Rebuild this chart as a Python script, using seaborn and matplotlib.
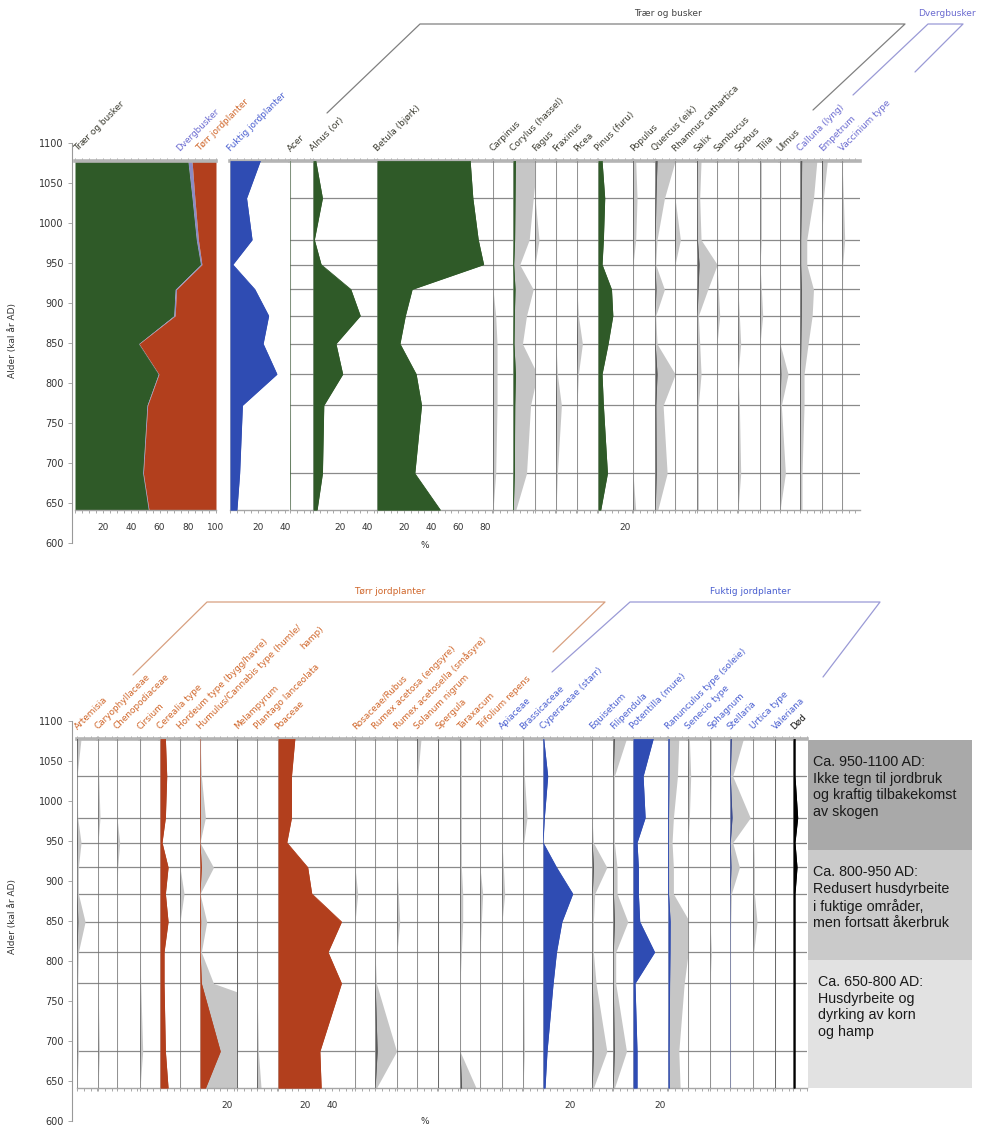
import matplotlib
matplotlib.use("Agg")
import matplotlib.pyplot as plt
from matplotlib.ticker import MultipleLocator
from matplotlib.patches import Rectangle
import numpy as np
import seaborn as sns

# ---------------- data (percent values per sample, top -> bottom) ----------------
years = [1078, 1031, 979, 948, 917, 884, 849, 811, 772, 687, 641]

# summary panels
traer_og_busker = [80, 83, 86, 89, 71, 70, 45, 59, 51, 48, 52]
dvergbusker = [3, 2, 1.5, 1, 1, 1, 0.5, 0.5, 0.5, 0.5, 0.5]
torr_jordplanter = [17, 15, 12.5, 10, 28, 29, 54.5, 40.5, 48.5, 51.5, 47.5]
fuktig_jordplanter = [22, 12, 16, 2, 18, 28, 24, 34, 9, 7, 5]

# trees and shrubs / dwarf shrubs
acer = [0, 0, 0, 0, 0, 0, 0, 0, 0, 0.1, 0]
alnus = [2, 7, 1, 6, 28, 35, 17, 22, 8, 7, 3]
betula = [69, 71, 75, 79, 26, 21, 17, 29, 33, 28, 47]
carpinus = [0, 0, 0, 0, 0, 0.2, 0.3, 0.3, 0.3, 0.2, 0]
corylus = [1.8, 1.5, 1.2, 0.5, 1.5, 1.0, 0.7, 1.8, 1.3, 1.0, 0.2]
fagus = [0, 0, 0.3, 0, 0, 0, 0, 0, 0, 0, 0]
fraxinus = [0, 0, 0, 0, 0, 0, 0, 0.1, 0.4, 0.1, 0]
picea = [0, 0, 0, 0, 0, 0.1, 0.4, 0.1, 0, 0, 0]
pinus = [3, 5, 4, 3, 10, 11, 7.5, 3, 4, 7, 2]
populus = [0.2, 0.3, 0.2, 0, 0, 0, 0, 0, 0, 0, 0.2]
quercus = [1.5, 0.7, 0.15, 0.05, 0.7, 0.05, 0.15, 1.5, 0.6, 0.9, 0.2]
rhamnus = [0, 0, 0.4, 0, 0, 0, 0, 0, 0, 0, 0]
salix = [0.3, 0.2, 0.3, 1.5, 0.8, 0.1, 0.2, 0.3, 0.1, 0.1, 0.1]
sambucus = [0, 0, 0, 0, 0.1, 0.2, 0, 0, 0, 0, 0]
sorbus = [0, 0, 0, 0, 0, 0.1, 0.2, 0, 0.1, 0.2, 0]
tilia = [0.1, 0.1, 0.1, 0, 0.1, 0.2, 0, 0, 0, 0, 0]
ulmus = [0, 0, 0, 0, 0, 0, 0, 0.6, 0.1, 0.4, 0]
calluna = [1.25, 1.0, 0.5, 0.5, 1.0, 0.9, 0.6, 0.3, 0.3, 0.15, 0.15]
empetrum = [0.4, 0.1, 0, 0, 0, 0, 0, 0, 0, 0, 0]
vaccinium = [0, 0.1, 0.2, 0.05, 0, 0, 0, 0, 0, 0, 0]

# dry-ground herbs
artemisia = [0.3, 0, 0.05, 0.3, 0.1, 0.1, 0.6, 0.1, 0.05, 0.1, 0]
caryophyllaceae = [0, 0.05, 0.15, 0, 0, 0, 0, 0, 0, 0.1, 0]
chenopodiaceae = [0, 0, 0, 0.2, 0.05, 0, 0, 0, 0, 0, 0]
cirsium = [0, 0, 0, 0, 0, 0, 0, 0, 0.05, 0.2, 0]
cerealia = [4, 5, 4, 1.5, 6, 4, 6, 3, 3, 4, 6]
hordeum = [0, 0, 0, 0, 0, 0.3, 0, 0, 0, 0, 0]
humulus = [0, 0.1, 0.4, 0, 1.0, 0, 0.5, 0.1, 1.0, 15, 4]
melampyrum = [0, 0, 0, 0, 0, 0, 0, 0, 0, 0, 0]
plantago = [0, 0, 0, 0, 0, 0, 0, 0, 0, 0.1, 0.3]
poaceae = [12.5, 10, 10, 6.5, 22, 25, 47, 37, 47, 31, 32]
rosaceae = [0, 0, 0, 0, 0, 0.2, 0, 0, 0, 0, 0]
rumex_acetosa = [0, 0, 0, 0, 0, 0, 0, 0, 0.1, 1.6, 0.1]
rumex_acetosella = [0, 0, 0, 0, 0, 0.1, 0.2, 0, 0, 0, 0]
solanum = [0.3, 0.05, 0, 0, 0, 0, 0, 0, 0, 0, 0]
spergula = [0, 0, 0, 0, 0, 0, 0, 0, 0, 0, 0]
taraxacum = [0.1, 0.1, 0.1, 0.1, 0.1, 0.2, 0.2, 0.1, 0, 0, 1.2]
trifolium = [0, 0, 0, 0, 0, 0.2, 0.1, 0, 0, 0, 0]

# wet-ground herbs
apiaceae = [0, 0, 0, 0, 0.1, 0.2, 0, 0, 0, 0, 0]
brassicaceae = [0.05, 0.1, 0.3, 0.05, 0, 0, 0, 0, 0.05, 0.1, 0]
cyperaceae = [0.5, 3.5, 1, 0, 10, 22, 14, 10, 7.5, 3, 1.5]
equisetum = [0, 0, 0, 0.1, 1.1, 0.2, 0.1, 0.1, 0.3, 1.1, 0.1]
filipendula = [1.0, 0.1, 0.1, 0.1, 0.3, 0.3, 1.1, 0.2, 0.2, 1.0, 0.1]
potentilla = [15, 7.5, 9, 3, 4, 4, 5, 16, 1.5, 3, 3]
ranunculus = [0.8, 0.7, 0.4, 0.3, 0.4, 0.4, 1.6, 1.5, 1.2, 0.8, 0.9]
senecio = [0.1, 0.2, 0.1, 0, 0, 0, 0, 0, 0, 0, 0]
sphagnum = [0.1, 0.1, 0.05, 0, 0, 0, 0, 0.1, 0, 0, 0]
stellaria = [1.0, 0.2, 1.5, 0.2, 0.7, 0.1, 0.05, 0, 0, 0, 0]
urtica = [0, 0, 0, 0.05, 0.1, 0.1, 0.3, 0.05, 0, 0, 0]
valeriana = [0, 0, 0, 0, 0, 0, 0, 0, 0, 0, 0]
dod = [1.5, 1.5, 3.5, 1.5, 3.0, 1.5, 1.5, 1.5, 1.5, 1.5, 1.5]

y_ticks = [600, 650, 700, 750, 800, 850, 900, 950, 1000, 1050, 1100]

zone_texts = [
    "Ca. 950-1100 AD:\nIkke tegn til jordbruk\nog kraftig tilbakekomst\nav skogen",
    "Ca. 800-950 AD:\nRedusert husdyrbeite\ni fuktige områder,\nmen fortsatt åkerbruk",
    "Ca. 650-800 AD:\nHusdyrbeite og\ndyrking av korn\nog hamp",
]

# ---------------- styling ----------------
sns.set_theme(style="white")
plt.rcParams['font.family'] = ['DejaVu Sans']

GREEN = '#2f5a28'
RED = '#b23f1d'
BLUE = '#2f4cb3'
DWARF = '#8c8cc4'
GREYEX = '#c6c6c6'
SMALL = '#5a5a5a'
LBL = {'tree': '#3b3b30', 'dwarf': '#6a6ad0', 'dry': '#d0662a', 'wet': '#4a5fd0', 'other': '#111111'}

W, H = 982, 1126
fig = plt.figure(figsize=(W / 100, H / 100), dpi=100)

YMIN, YMAX = 641, 1078
SCALE = 1.35


def ypx(year, chart):
    base = 183 if chart == 0 else 761
    return base + (1050 - year) * 0.8


def add_ax(left, top, width, height):
    return fig.add_axes([left / W, 1 - (top + height) / H, width / W, height / H])


overlay = fig.add_axes([0, 0, 1, 1])
overlay.set_xlim(0, W)
overlay.set_ylim(H, 0)
overlay.axis('off')


def style(ax, ticks):
    for s in ['left', 'right']:
        ax.spines[s].set_visible(False)
    ax.spines['top'].set_color('#b4b4b4')
    ax.spines['top'].set_linewidth(2.6)
    ax.spines['bottom'].set_color('#a6a6a6')
    ax.spines['bottom'].set_linewidth(1.0)
    ax.set_yticks([])
    ax.set_xticks(ticks)
    ax.xaxis.set_minor_locator(MultipleLocator(5))
    ax.tick_params(axis='x', which='both', top=True, bottom=True, direction='out',
                   length=2.5, width=0.6, color='#9a9a9a', labelsize=6.5, pad=7,
                   labelcolor='#333333', labeltop=False, labelbottom=True)
    ax.set_xlabel('')
    ax.set_ylabel('')
    ax.set_facecolor('none')
    ax.grid(False)


def draw_panel(left, width, chart, vals, fill_color, line_color, exag, ticks,
               hlines=True, scale=SCALE):
    top = ypx(YMAX, chart)
    bottom = ypx(YMIN, chart)
    ax = add_ax(left, top, width, bottom - top)
    v = np.asarray(vals, float)
    ax.axvline(0, color='#bdbdbd', lw=0.8, zorder=1)
    if hlines:
        for yr in years[1:-1]:
            ax.axhline(yr, color='#8a8a8a', lw=0.9, zorder=1)
    if exag:
        ax.fill_betweenx(years, 0, v * 10, color=GREYEX, lw=0, zorder=2)
    ax.fill_betweenx(years, 0, v, color=fill_color, lw=0, zorder=3)
    sns.lineplot(x=v, y=years, orient='y', sort=False, estimator=None, ax=ax,
                 color=line_color, lw=0.6, zorder=4, legend=False)
    ax.set_xlim(0, width / scale)
    ax.set_ylim(YMIN, YMAX)
    style(ax, ticks)
    return ax


def label(x, y, text, color, size=6.4):
    overlay.text(x, y, text, rotation=45, ha='left', va='bottom',
                 rotation_mode='anchor', fontsize=size, color=color)


# ---------------- y axes ----------------
for chart, ylab_y in [(0, 340), (1, 917)]:
    t = ypx(1100, chart)
    b = ypx(600, chart)
    ay = add_ax(72, t, 1, b - t)
    ay.set_ylim(600, 1100)
    ay.set_yticks(y_ticks)
    ay.set_xticks([])
    for s in ['top', 'right', 'bottom']:
        ay.spines[s].set_visible(False)
    ay.spines['left'].set_color('#999999')
    ay.spines['left'].set_linewidth(0.8)
    ay.tick_params(axis='y', left=True, length=3, width=0.6, color='#999999',
                   labelsize=7, pad=3, labelcolor='#333333')
    ay.set_facecolor('none')
    overlay.text(13, ylab_y, 'Alder (kal år AD)', rotation=90, ha='center',
                 va='center', fontsize=6.5, color='#333333')

# ---------------- top chart ----------------
t0 = ypx(YMAX, 0)
b0 = ypx(YMIN, 0)
axs = add_ax(75, t0, 141, b0 - t0)
tr = np.asarray(traer_og_busker, float)
dv = np.asarray(dvergbusker, float)
dr = np.asarray(torr_jordplanter, float)
axs.fill_betweenx(years, 0, tr, color=GREEN, lw=0)
axs.fill_betweenx(years, tr, tr + dv, color=DWARF, lw=0)
axs.fill_betweenx(years, tr + dv, tr + dv + dr, color=RED, lw=0)
sns.lineplot(x=tr, y=years, orient='y', sort=False, estimator=None, ax=axs,
             color=GREEN, lw=0.5, legend=False)
axs.set_xlim(0, 100)
axs.set_ylim(YMIN, YMAX)
style(axs, [20, 40, 60, 80, 100])

draw_panel(230, 58, 0, fuktig_jordplanter, BLUE, BLUE, False, [20, 40],
           hlines=False, scale=1.38)

label(79, 153, 'Trær og busker', LBL['tree'])
label(181, 153, 'Dvergbusker', LBL['dwarf'])
label(201, 153, 'Tørr jordplanter', LBL['dry'])
label(232, 153, 'Fuktig jordplanter', LBL['wet'])

top_panels = [
    ('Acer', acer, 23, 'tree', False, []),
    ('Alnus (or)', alnus, 64, 'tree', False, [20, 40]),
    ('Betula (bjørk)', betula, 116, 'tree', False, [20, 40, 60, 80]),
    ('Carpinus', carpinus, 20, 'tree', True, []),
    ('Corylus (hassel)', corylus, 22, 'tree', True, []),
    ('Fagus', fagus, 21, 'tree', True, []),
    ('Fraxinus', fraxinus, 21, 'tree', True, []),
    ('Picea', picea, 21, 'tree', True, []),
    ('Pinus (furu)', pinus, 35, 'tree', False, [20]),
    ('Populus', populus, 22, 'tree', True, []),
    ('Quercus (eik)', quercus, 20, 'tree', True, []),
    ('Rhamnus cathartica', rhamnus, 22, 'tree', True, []),
    ('Salix', salix, 20, 'tree', True, []),
    ('Sambucus', sambucus, 21, 'tree', True, []),
    ('Sorbus', sorbus, 22, 'tree', True, []),
    ('Tilia', tilia, 20, 'tree', True, []),
    ('Ulmus', ulmus, 20, 'tree', True, []),
    ('Calluna (lyng)', calluna, 22, 'dwarf', True, []),
    ('Empetrum', empetrum, 20, 'dwarf', True, []),
    ('Vaccinium type', vaccinium, 18, 'dwarf', True, []),
]

x = 290
for name, vals, w, kind, ex, ticks in top_panels:
    if kind == 'tree' and not ex:
        fc = lc = GREEN
    elif name.startswith('Corylus'):
        fc = lc = GREEN
    else:
        fc = lc = SMALL
    draw_panel(x, w, 0, vals, fc, lc, ex, ticks)
    label(x + 2, 153, name, LBL[kind])
    x += w

overlay.text(425, 546, '%', ha='center', va='center', fontsize=6.5, color='#333333')

# ---------------- bottom chart ----------------
bottom_panels = [
    ('Artemisia', artemisia, 21, 'dry', True, [], SMALL),
    ('Caryophyllaceae', caryophyllaceae, 19, 'dry', True, [], SMALL),
    ('Chenopodiaceae', chenopodiaceae, 23, 'dry', True, [], SMALL),
    ('Cirsium', cirsium, 20, 'dry', True, [], SMALL),
    ('Cerealia type', cerealia, 20, 'dry', False, [], RED),
    ('Hordeum type (bygg/havre)', hordeum, 20, 'dry', True, [], SMALL),
    ('Humulus/Cannabis type (humle/', humulus, 37, 'dry', True, [20], RED),
    ('Melampyrum', melampyrum, 20, 'dry', True, [], SMALL),
    ('Plantago lanceolata', plantago, 21, 'dry', True, [], SMALL),
    ('Poaceae', poaceae, 77, 'dry', False, [20, 40], RED),
    ('Rosaceae/Rubus', rosaceae, 20, 'dry', True, [], SMALL),
    ('Rumex acetosa (engsyre)', rumex_acetosa, 22, 'dry', True, [], SMALL),
    ('Rumex acetosella (småsyre)', rumex_acetosella, 20, 'dry', True, [], SMALL),
    ('Solanum nigrum', solanum, 21, 'dry', True, [], SMALL),
    ('Spergula', spergula, 22, 'dry', True, [], SMALL),
    ('Taraxacum', taraxacum, 20, 'dry', True, [], SMALL),
    ('Trifolium repens', trifolium, 22, 'dry', True, [], SMALL),
    ('Apiaceae', apiaceae, 21, 'wet', True, [], SMALL),
    ('Brassicaceae', brassicaceae, 20, 'wet', True, [], SMALL),
    ('Cyperaceae (starr)', cyperaceae, 49, 'wet', False, [20], BLUE),
    ('Equisetum', equisetum, 21, 'wet', True, [], SMALL),
    ('Filipendula', filipendula, 20, 'wet', True, [], SMALL),
    ('Potentilla (mure)', potentilla, 35, 'wet', False, [20], BLUE),
    ('Ranunculus type (soleie)', ranunculus, 20, 'wet', True, [], BLUE),
    ('Senecio type', senecio, 22, 'wet', True, [], SMALL),
    ('Sphagnum', sphagnum, 20, 'wet', True, [], SMALL),
    ('Stellaria', stellaria, 23, 'wet', True, [], '#3a4a90'),
    ('Urtica type', urtica, 22, 'wet', True, [], SMALL),
    ('Valeriana', valeriana, 18, 'wet', True, [], SMALL),
    ('Død', dod, 14, 'other', False, [], '#000000'),
]

x = 77
for name, vals, w, kind, ex, ticks, col in bottom_panels:
    draw_panel(x, w, 1, vals, col, col, ex, ticks)
    label(x + 2, 731, name, LBL[kind])
    if name.startswith('Humulus'):
        label(305, 651, 'hamp)', LBL[kind])
    x += w

overlay.text(425, 1122, '%', ha='center', va='center', fontsize=6.5, color='#333333')

# ---------------- group headers ----------------
def bracket(pts, color):
    xs, ys = zip(*pts)
    overlay.plot(xs, ys, color=color, lw=0.9)

bracket([(327, 113), (420, 24), (905, 24), (813, 110)], '#808080')
overlay.text(668, 13, 'Trær og busker', ha='center', va='center', fontsize=6.5, color='#444444')
bracket([(853, 95), (928, 24), (963, 24), (915, 72)], '#9a9ad6')
overlay.text(947, 13, 'Dvergbusker', ha='center', va='center', fontsize=6.5, color='#6a6ad0')

bracket([(133, 675), (207, 602), (605, 602), (553, 652)], '#d8a080')
overlay.text(390, 592, 'Tørr jordplanter', ha='center', va='center', fontsize=6.5, color='#d0662a')
bracket([(552, 672), (630, 602), (880, 602), (823, 677)], '#9a9ad6')
overlay.text(750, 592, 'Fuktig jordplanter', ha='center', va='center', fontsize=6.5, color='#4a5fd0')

# ---------------- zone boxes ----------------
boxes = [(740, 850, '#a9a9a9', 813), (850, 960, '#cacaca', 813), (960, 1088, '#e2e2e2', 818)]
for (y0, y1, colr, tx), txt in zip(boxes, zone_texts):
    overlay.add_patch(Rectangle((808, y0), 164, y1 - y0, facecolor=colr, edgecolor='none'))
    overlay.text(tx, y0 + 15, txt, ha='left', va='top', fontsize=10.3,
                 family=['Liberation Sans', 'DejaVu Sans'], color='#1a1a1a', linespacing=1.25)

fig.savefig('out.png', dpi=100)
